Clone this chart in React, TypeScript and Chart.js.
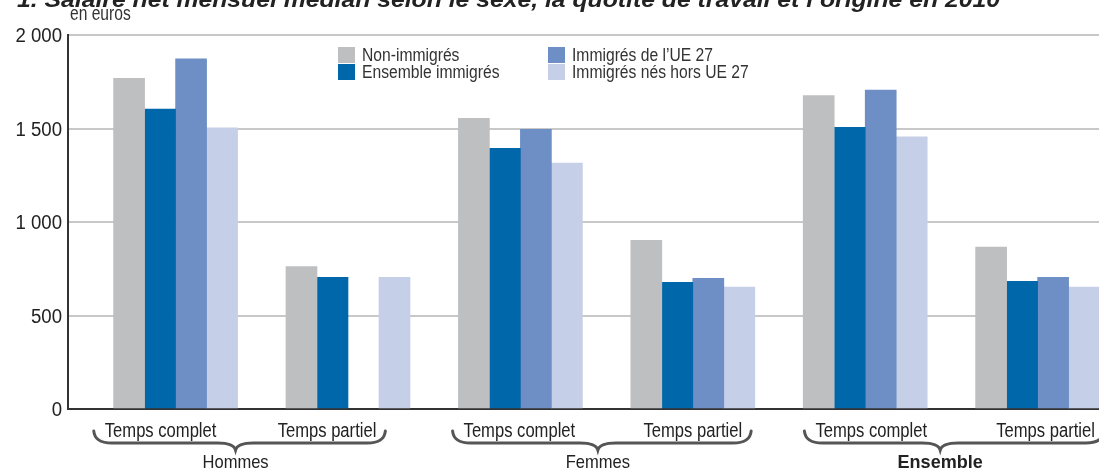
import React, { useEffect, useRef } from 'react';
import { Chart, registerables } from 'chart.js';

Chart.register(...registerables);

const TITLE = "1. Salaire net mensuel médian selon le sexe, la quotité de travail et l’origine en 2010";
const UNIT = 'en euros';
const quotites = ['Temps complet', 'Temps partiel', 'Temps complet', 'Temps partiel', 'Temps complet', 'Temps partiel'];
const sexes = ['Hommes', 'Femmes', 'Ensemble'];
const seriesLabels = ['Non-immigrés', 'Ensemble immigrés', 'Immigrés de l’UE 27', 'Immigrés nés hors UE 27'];
const nonImmigres = [1768, 761, 1555, 902, 1676, 866];
const ensembleImmigres = [1604, 704, 1394, 677, 1506, 683];
const immigresUE27 = [1872, null, 1496, 699, 1706, 704];
const immigresHorsUE27 = [1503, 704, 1315, 652, 1456, 652];
const yTicks = [0, 500, 1000, 1500, 2000];

const COLORS = ['#bebfc1', '#0067ab', '#6d8fc6', '#c5cfe8'];
const SANS = "'Liberation Sans', Arial, sans-serif";
const LABEL_NUDGE = [-15, -21, -1, 0, 6, 8];
const BRACE_NUDGE = [-4, -4, -14];

const fmt = (v: number) =>
  v >= 1000 ? `${Math.floor(v / 1000)} ${String(v % 1000).padStart(3, '0')}` : String(v);

function txt(ctx: CanvasRenderingContext2D, s: string, x: number, y: number, font: string, sx: number, align: CanvasTextAlign, base: CanvasTextBaseline = 'alphabetic') {
  ctx.save();
  ctx.font = font;
  ctx.textAlign = align;
  ctx.textBaseline = base;
  ctx.translate(x, y);
  ctx.scale(sx, 1);
  ctx.fillText(s, 0, 0);
  const w = ctx.measureText(s).width * sx;
  ctx.restore();
  return w;
}

const overlay = {
  id: 'overlay',
  afterDraw(chart: any) {
    const ctx = chart.ctx as CanvasRenderingContext2D;
    const xs = chart.scales.x;
    const ys = chart.scales.y;
    ctx.save();
    // Title (top clipped)
    ctx.fillStyle = '#222';
    ctx.font = `bold italic 22px ${SANS}`;
    const tw = ctx.measureText(TITLE).width;
    txt(ctx, TITLE, 17, 7, `bold italic 22px ${SANS}`, 983 / tw, 'left');

    // unit
    ctx.fillStyle = '#333';
    txt(ctx, UNIT, 70, 20, `20px ${SANS}`, 0.78, 'left');

    // y tick labels
    ctx.fillStyle = '#222';
    yTicks.forEach((v) => {
      txt(ctx, fmt(v), 62, ys.getPixelForValue(v) + 7, `20px ${SANS}`, 0.93, 'right');
    });

    // legend
    const legendPos = [
      [338, 47], [338, 64], [548, 47], [548, 64],
    ];
    seriesLabels.forEach((lab, i) => {
      const [lx, ly] = legendPos[i];
      ctx.fillStyle = COLORS[i];
      ctx.fillRect(lx, ly, 17, 16);
      ctx.fillStyle = '#333';
      txt(ctx, lab, lx + 24, ly + 14, `18px ${SANS}`, 0.87, 'left');
    });

    // x labels
    ctx.fillStyle = '#222';
    const lpos: { c: number; w: number }[] = [];
    quotites.forEach((q, i) => {
      const c = xs.getPixelForValue(i) + LABEL_NUDGE[i];
      const w = txt(ctx, q, c, 437, `20px ${SANS}`, 0.83, 'center');
      lpos.push({ c, w });
    });

    // braces + group labels
    ctx.strokeStyle = '#555';
    ctx.lineWidth = 3;
    ctx.lineCap = 'round';
    sexes.forEach((s, g) => {
      const a = lpos[g * 2];
      const b = lpos[g * 2 + 1];
      const xl = a.c - a.w / 2 - 11;
      const xr = b.c + b.w / 2 + 9;
      const xm = (xl + xr) / 2 + BRACE_NUDGE[g];
      const y = 443;
      ctx.beginPath();
      ctx.moveTo(xl, y - 12);
      ctx.quadraticCurveTo(xl + 1, y, xl + 18, y);
      ctx.lineTo(xm - 18, y);
      ctx.quadraticCurveTo(xm - 2, y, xm, y + 7);
      ctx.quadraticCurveTo(xm + 2, y, xm + 18, y);
      ctx.lineTo(xr - 18, y);
      ctx.quadraticCurveTo(xr - 1, y, xr, y - 12);
      ctx.stroke();
      ctx.fillStyle = '#222';
      txt(ctx, s, xm, 468, g === 2 ? `bold 19px ${SANS}` : `19px ${SANS}`, g === 2 ? 0.95 : 0.87, 'center');
    });
    ctx.restore();
  },
};

export default function App() {
  const ref = useRef<HTMLCanvasElement | null>(null);
  useEffect(() => {
    document.body.style.margin = '0';
    if (!ref.current) return;
    const series = [nonImmigres, ensembleImmigres, immigresUE27, immigresHorsUE27];
    const chart = new Chart(ref.current, {
      type: 'bar',
      data: {
        datasets: series.map((vals, k) => ({
          label: seriesLabels[k],
          data: vals.map((v, i) => ({ x: i, y: v })),
          backgroundColor: COLORS[k],
          borderWidth: 0,
          barThickness: 31,
        })),
      },
      options: {
        animation: false,
        responsive: true,
        maintainAspectRatio: false,
        layout: { padding: { top: 35, left: 0, right: 0, bottom: 0 } },
        plugins: { legend: { display: false }, tooltip: { enabled: false }, title: { display: false } },
        scales: {
          x: {
            type: 'linear',
            offset: false,
            min: -0.624,
            max: 5.356,
            ticks: { display: false },
            grid: { display: false, drawTicks: false, offset: false },
            border: { display: true, color: '#333', width: 2 },
            afterFit: (s: any) => { s.height = 63; },
          },
          y: {
            min: 0,
            max: 2000,
            afterBuildTicks: (s: any) => { s.ticks = yTicks.map((v) => ({ value: v })); },
            ticks: { display: false },
            grid: { color: '#c8c8c8', lineWidth: 2, drawTicks: false },
            border: { display: true, color: '#333', width: 2 },
            afterFit: (s: any) => { s.width = 68; },
          },
        },
      },
      plugins: [overlay],
    } as any);
    return () => chart.destroy();
  }, []);
  return (
    <div style={{ position: 'fixed', left: 0, top: 0, width: 1099, height: 472, background: '#fff' }}>
      <canvas ref={ref} />
    </div>
  );
}
